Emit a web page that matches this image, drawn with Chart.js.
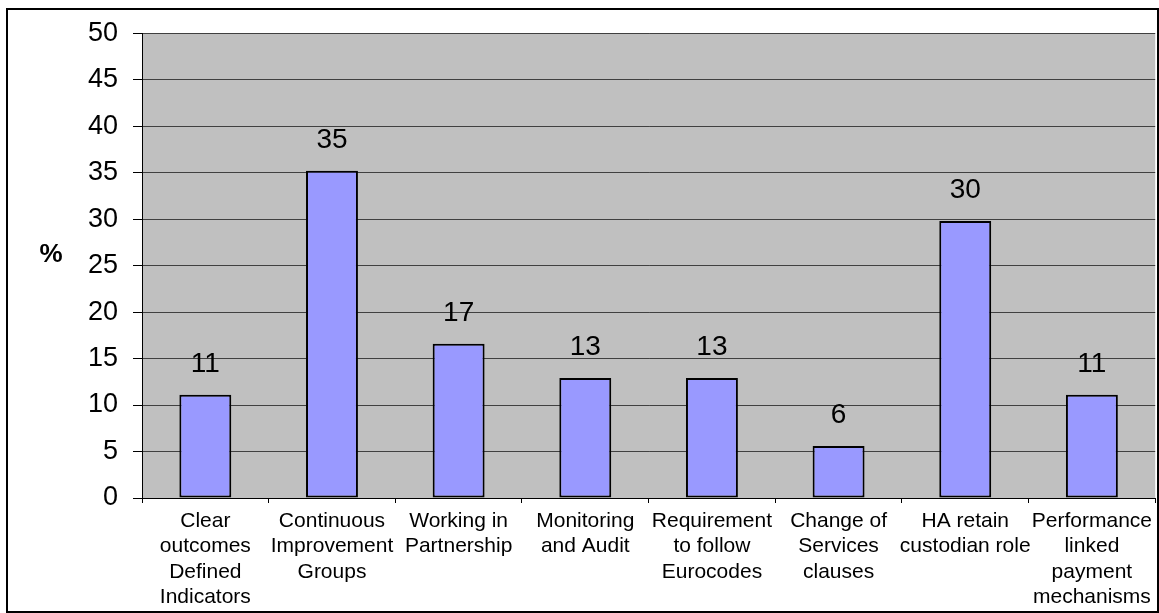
<!DOCTYPE html>
<html>
<head>
<meta charset="utf-8">
<title>%</title>
<script src="https://cdn.jsdelivr.net/npm/chart.js@4/dist/chart.umd.min.js"></script>
<style>
  html, body { margin: 0; padding: 0; background: #fff; }
  #frame {
    position: absolute;
    left: 6px;
    top: 8px;
    width: 1149px;
    height: 601px;
    border: 2px solid #000;
    background: #fff;
    overflow: hidden;
  }
  #chart { display: block; margin-top: -8px; }
</style>
</head>
<body>
<div id="frame">
  <canvas id="chart" width="1149" height="609"></canvas>
</div>
<script>
const categories = [
  ["Clear", "outcomes", "Defined", "Indicators"],
  ["Continuous", "Improvement", "Groups"],
  ["Working in", "Partnership"],
  ["Monitoring", "and Audit"],
  ["Requirement", "to follow", "Eurocodes"],
  ["Change of", "Services", "clauses"],
  ["HA retain", "custodian role"],
  ["Performance", "linked", "payment", "mechanisms"]
];

const percentages = [11.1, 35.2, 16.6, 12.9, 12.9, 5.6, 29.8, 11.1];

const yTicks = { min: 0, max: 50, step: 5 };

const FONT = "'Liberation Sans', Arial, sans-serif";

// value labels above each bar, plus the "%" axis caption
const barLabels = {
  id: "barLabels",
  afterDatasetsDraw(chart) {
    const ctx = chart.ctx;
    const meta = chart.getDatasetMeta(0);
    ctx.save();
    ctx.fillStyle = "#000";
    ctx.font = `28px ${FONT}`;
    ctx.textAlign = "center";
    ctx.textBaseline = "alphabetic";
    meta.data.forEach((bar, i) => {
      const value = chart.data.datasets[0].data[i];
      ctx.fillText(Math.round(value).toString(), bar.x, bar.y - 23);
    });

    ctx.font = `bold 26px ${FONT}`;
    ctx.textAlign = "center";
    ctx.textBaseline = "middle";
    ctx.fillText("%", 43, 253);
    ctx.restore();
  }
};

const plotBackground = {
  id: "plotBackground",
  beforeDraw(chart) {
    const { ctx, chartArea } = chart;
    ctx.save();
    ctx.fillStyle = "#c0c0c0";
    ctx.fillRect(chartArea.left, chartArea.top, chartArea.right - chartArea.left, chartArea.bottom - chartArea.top);
    ctx.restore();
  }
};

new Chart(document.getElementById("chart"), {
  type: "bar",
  data: {
    labels: categories,
    datasets: [{
      data: percentages,
      backgroundColor: "#9999ff",
      borderColor: "#000",
      borderWidth: 2,
      borderSkipped: false,
      categoryPercentage: 1,
      barPercentage: 0.41
    }]
  },
  options: {
    responsive: false,
    animation: false,
    layout: {
      padding: { top: 6, right: 0, bottom: 0, left: 0 }
    },
    scales: {
      y: {
        min: yTicks.min,
        max: yTicks.max,
        afterFit(scale) { scale.width = 134; },
        border: { display: true, color: "#000", width: 1 },
        grid: {
          color: "#404040",
          lineWidth: 1,
          drawTicks: true,
          tickLength: 9,
          tickColor: "#000"
        },
        ticks: {
          stepSize: yTicks.step,
          color: "#000",
          padding: 15,
          font: { family: FONT, size: 27 }
        }
      },
      x: {
        afterFit(scale) { scale.height = 113; },
        border: { display: true, color: "#000", width: 1 },
        grid: {
          offset: true,
          drawOnChartArea: false,
          drawTicks: true,
          tickLength: 5,
          tickColor: "#000"
        },
        ticks: {
          color: "#000",
          padding: 5,
          maxRotation: 0,
          autoSkip: false,
          font: { family: FONT, size: 21, lineHeight: 1.22 }
        }
      }
    },
    plugins: {
      legend: { display: false },
      tooltip: { enabled: false }
    }
  },
  plugins: [plotBackground, barLabels]
});
</script>
</body>
</html>
